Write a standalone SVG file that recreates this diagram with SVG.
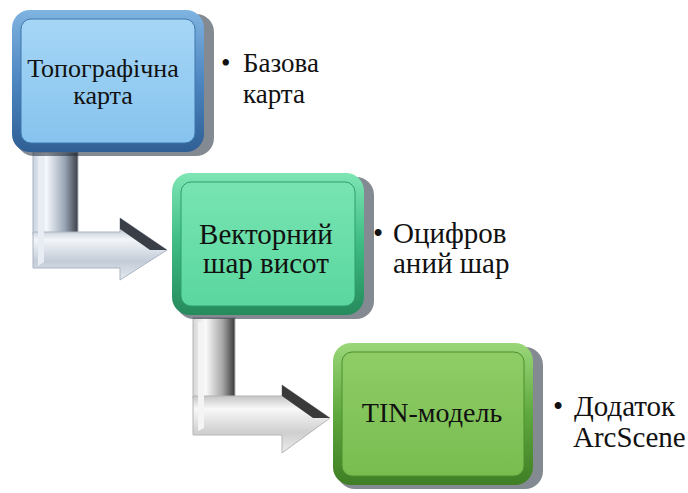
<svg xmlns="http://www.w3.org/2000/svg" width="688" height="493" viewBox="0 0 688 493">
<defs>
<linearGradient id="gBlueB" x1="0" y1="0" x2="0" y2="1"><stop offset="0" stop-color="#7fb3e0"/><stop offset="0.5" stop-color="#4d86c0"/><stop offset="1" stop-color="#2f5f95"/></linearGradient>
<linearGradient id="gBlueF" x1="0" y1="0" x2="0" y2="1"><stop offset="0" stop-color="#a6d6f6"/><stop offset="1" stop-color="#86c3ee"/></linearGradient>
<linearGradient id="gTealB" x1="0" y1="0" x2="0" y2="1"><stop offset="0" stop-color="#7ee6b4"/><stop offset="0.5" stop-color="#3dbb82"/><stop offset="1" stop-color="#268a5c"/></linearGradient>
<linearGradient id="gTealF" x1="0" y1="0" x2="0" y2="1"><stop offset="0" stop-color="#78e4b2"/><stop offset="1" stop-color="#5ad79e"/></linearGradient>
<linearGradient id="gLimeB" x1="0" y1="0" x2="0" y2="1"><stop offset="0" stop-color="#9ad77a"/><stop offset="0.5" stop-color="#5fa83e"/><stop offset="1" stop-color="#3f7e25"/></linearGradient>
<linearGradient id="gLimeF" x1="0" y1="0" x2="0" y2="1"><stop offset="0" stop-color="#8fcc66"/><stop offset="1" stop-color="#78bd50"/></linearGradient>
<linearGradient id="gArrV" x1="0" y1="0" x2="1" y2="0"><stop offset="0" stop-color="#c9d3e0"/><stop offset="0.3" stop-color="#f4f7fb"/><stop offset="0.7" stop-color="#9aa6b6"/><stop offset="1" stop-color="#3c4048"/></linearGradient>
<linearGradient id="gArrH" x1="0" y1="0" x2="0" y2="1"><stop offset="0" stop-color="#8e9aab"/><stop offset="0.35" stop-color="#f2f5f9"/><stop offset="0.7" stop-color="#c3ccd8"/><stop offset="1" stop-color="#e6eaf0"/></linearGradient>
<linearGradient id="gArrV2" x1="0" y1="0" x2="1" y2="0"><stop offset="0" stop-color="#d6d6d6"/><stop offset="0.3" stop-color="#fafafa"/><stop offset="0.7" stop-color="#a8a8a8"/><stop offset="1" stop-color="#3a3a3a"/></linearGradient>
<linearGradient id="gArrH2" x1="0" y1="0" x2="0" y2="1"><stop offset="0" stop-color="#9a9a9a"/><stop offset="0.35" stop-color="#f8f8f8"/><stop offset="0.7" stop-color="#cfcfcf"/><stop offset="1" stop-color="#ececec"/></linearGradient>
</defs>
<style>
.shadow{fill:#1e2a36;opacity:0.55}
</style>
<g id="connectors">
<g id="arrow1">
<rect x="33" y="152" width="45" height="82" fill="url(#gArrV)" stroke="#aab4c2" stroke-width="1"/>
<polygon points="33,232 120,232 120,218 167,250 120,280 120,268 33,268" fill="url(#gArrH)" stroke="#aab4c2" stroke-width="1"/>
<polygon points="120,218 167,250 150,250 120,229" fill="#3a3e46"/>
<polygon points="38,156 44,156 44,262 38,266" fill="#e8edf3"/>
</g>
<g id="arrow2">
<rect x="193" y="318" width="42" height="80" fill="url(#gArrV2)" stroke="#b5b5b5" stroke-width="1"/>
<polygon points="193,396 282,396 282,385 330,418 282,453 282,435 193,435" fill="url(#gArrH2)" stroke="#b5b5b5" stroke-width="1"/>
<polygon points="282,385 330,418 313,418 282,396" fill="#3a3a3a"/>
<polygon points="198,322 204,322 204,428 198,431" fill="#f4f4f4"/>
</g>
</g>
<g id="node1">
<rect x="16" y="14" width="198" height="142" rx="18" class="shadow"/>
<rect x="12" y="10" width="192" height="142" rx="18" fill="url(#gBlueB)"/>
<rect x="21" y="19" width="174" height="124" rx="10" fill="url(#gBlueF)" stroke="#3f77ad" stroke-width="1"/>
<g font-family="Liberation Serif" font-size="26" fill="#111" text-anchor="middle">
<text x="103" y="77">Топографічна</text>
<text x="103" y="104">карта</text>
</g>
</g>
<g id="node2">
<rect x="176" y="177" width="198" height="142" rx="18" class="shadow"/>
<rect x="172" y="173" width="192" height="142" rx="18" fill="url(#gTealB)"/>
<rect x="181" y="182" width="174" height="124" rx="10" fill="url(#gTealF)" stroke="#2f9e6c" stroke-width="1"/>
<g font-family="Liberation Serif" font-size="29" fill="#111" text-anchor="middle">
<text x="266" y="244">Векторний</text>
<text x="266" y="273">шар висот</text>
</g>
</g>
<g id="node3">
<rect x="337" y="347" width="206" height="142" rx="18" class="shadow"/>
<rect x="333" y="343" width="200" height="142" rx="18" fill="url(#gLimeB)"/>
<rect x="342" y="352" width="182" height="124" rx="10" fill="url(#gLimeF)" stroke="#4d8f2e" stroke-width="1"/>
<text x="432" y="422" font-family="Liberation Serif" font-size="28" fill="#111" text-anchor="middle">TIN-модель</text>
</g>
<g id="notes" font-family="Liberation Serif" fill="#111">
<g font-size="27">
<text x="221" y="72">•</text>
<text x="243" y="72">Базова</text>
<text x="243" y="103">карта</text>
</g>
<g font-size="29">
<text x="373" y="243">•</text>
<text x="393" y="243">Оцифров</text>
<text x="393" y="273">аний шар</text>
<text x="553" y="416">•</text>
<text x="574" y="416">Додаток</text>
<text x="573" y="447">ArcScene</text>
</g>
</g>
</svg>
